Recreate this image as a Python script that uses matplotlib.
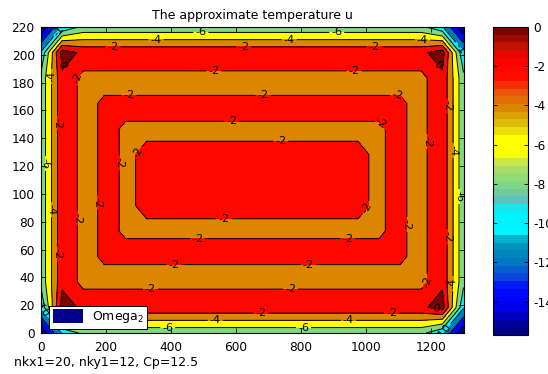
import numpy as np
import matplotlib
matplotlib.use("Agg")
import matplotlib.pyplot as plt
import matplotlib as mpl
from matplotlib.colors import Normalize, LinearSegmentedColormap
from matplotlib.patches import Patch

# ---------------- data (nodal values) ----------------
x_nodes = [0, 65, 130, 195, 260, 325, 390, 455, 520, 585, 650, 715, 780,
           845, 910, 975, 1040, 1105, 1170, 1235, 1300]
y_nodes = [0, 18.333, 36.667, 55, 73.333, 91.667, 110, 128.333, 146.667,
           165, 183.333, 201.667, 220]

u_rows = [
    [-15.7, -9.8, -7.5, -7.5, -7.5, -7.5, -7.5, -7.5, -7.5, -7.5, -7.5, -7.5, -7.5, -7.5, -7.5, -7.5, -7.5, -7.5, -7.5, -9.8, -15.7],
    [-9.8, 1.0, -0.45, -0.45, -0.45, -0.45, -0.45, -0.45, -0.45, -0.45, -0.45, -0.45, -0.45, -0.45, -0.45, -0.45, -0.45, -0.45, -0.45, 1.0, -9.8],
    [-7.5, -0.45, -2.6, -2.6, -2.6, -2.6, -2.6, -2.6, -2.6, -2.6, -2.6, -2.6, -2.6, -2.6, -2.6, -2.6, -2.6, -2.6, -2.6, -0.45, -7.5],
    [-7.5, -0.45, -2.6, -1.72, -1.72, -1.72, -1.72, -1.72, -1.72, -1.72, -1.72, -1.72, -1.72, -1.72, -1.72, -1.72, -1.72, -1.72, -2.6, -0.45, -7.5],
    [-7.5, -0.45, -2.6, -1.72, -2.12, -2.12, -2.12, -2.12, -2.12, -2.12, -2.12, -2.12, -2.12, -2.12, -2.12, -2.12, -2.12, -1.72, -2.6, -0.45, -7.5],
    [-7.5, -0.45, -2.6, -1.72, -2.12, -1.87, -1.87, -1.87, -1.87, -1.87, -1.87, -1.87, -1.87, -1.87, -1.87, -1.87, -2.12, -1.72, -2.6, -0.45, -7.5],
    [-7.5, -0.45, -2.6, -1.72, -2.12, -1.87, -1.87, -1.87, -1.87, -1.87, -1.87, -1.87, -1.87, -1.87, -1.87, -1.87, -2.12, -1.72, -2.6, -0.45, -7.5],
    [-7.5, -0.45, -2.6, -1.72, -2.12, -1.87, -1.87, -1.87, -1.87, -1.87, -1.87, -1.87, -1.87, -1.87, -1.87, -1.87, -2.12, -1.72, -2.6, -0.45, -7.5],
    [-7.5, -0.45, -2.6, -1.72, -2.12, -2.12, -2.12, -2.12, -2.12, -2.12, -2.12, -2.12, -2.12, -2.12, -2.12, -2.12, -2.12, -1.72, -2.6, -0.45, -7.5],
    [-7.5, -0.45, -2.6, -1.72, -1.72, -1.72, -1.72, -1.72, -1.72, -1.72, -1.72, -1.72, -1.72, -1.72, -1.72, -1.72, -1.72, -1.72, -2.6, -0.45, -7.5],
    [-7.5, -0.45, -2.6, -2.6, -2.6, -2.6, -2.6, -2.6, -2.6, -2.6, -2.6, -2.6, -2.6, -2.6, -2.6, -2.6, -2.6, -2.6, -2.6, -0.45, -7.5],
    [-9.8, 1.0, -0.45, -0.45, -0.45, -0.45, -0.45, -0.45, -0.45, -0.45, -0.45, -0.45, -0.45, -0.45, -0.45, -0.45, -0.45, -0.45, -0.45, 1.0, -9.8],
    [-15.7, -9.8, -7.5, -7.5, -7.5, -7.5, -7.5, -7.5, -7.5, -7.5, -7.5, -7.5, -7.5, -7.5, -7.5, -7.5, -7.5, -7.5, -7.5, -9.8, -15.7],
]

fill_levels = [-15.7, -14, -12, -10, -8, -6, -4, -2, 0, 1.1]
line_levels = [-14, -12, -10, -8, -6, -4, -2, 0]
cbar_min, cbar_max = -15.7, 0.0
cbar_ticks = [-14, -12, -10, -8, -6, -4, -2, 0]
x_ticks = [0, 200, 400, 600, 800, 1000, 1200]
y_ticks = [0, 20, 40, 60, 80, 100, 120, 140, 160, 180, 200, 220]
title_text = "The approximate temperature u"
note_text = "nkx1=20, nky1=12, Cp=12.5"
legend_label = "Omega$_2$"

# colormap anchors as seen on the reference colour bar (value, colour)
cmap_values = [-15.7, -15.0, -14.4, -13.4, -12.8, -12.0, -11.0, -10.5, -9.4,
               -8.8, -8.0, -7.0, -6.4, -5.6, -5.0, -4.0, -3.2, -2.5, -1.5,
               -0.7, 0.0]
cmap_colors = [(0.0, 0.0, 0.5), (0.0, 0.0, 0.72), (0.0, 0.0, 0.95),
               (0.0, 0.05, 1.0), (0.05, 0.3, 0.85), (0.0, 0.48, 0.75),
               (0.0, 0.62, 0.75), (0.0, 0.95, 1.0), (0.0, 0.95, 1.0),
               (0.4, 0.75, 0.72), (0.5, 0.85, 0.5), (0.72, 0.87, 0.38),
               (1.0, 1.0, 0.0), (1.0, 1.0, 0.0), (0.87, 0.78, 0.05),
               (0.86, 0.52, 0.0), (0.92, 0.33, 0.05), (1.0, 0.05, 0.0),
               (1.0, 0.0, 0.0), (0.72, 0.07, 0.02), (0.5, 0.0, 0.0)]

# ---------------- figure ----------------
plt.rcParams["font.family"] = ["DejaVu Sans"]
W, H = 548, 374
fig = plt.figure(figsize=(W / 100, H / 100), dpi=100)
ax = fig.add_axes([41 / W, (H - 333) / H, 422.5 / W, 306 / H])

X, Y = np.meshgrid(np.array(x_nodes), np.array(y_nodes))
U = np.array(u_rows)

norm = Normalize(cbar_min, cbar_max)
anchors = [((v - cbar_min) / (cbar_max - cbar_min), c)
           for v, c in zip(cmap_values, cmap_colors)]
cmap_smooth = LinearSegmentedColormap.from_list("refjet", anchors)
cmap = cmap_smooth.resampled(40)
band_colors = [cmap_smooth(norm(max(lv, cbar_min))) for lv in fill_levels[:-1]]

ax.contourf(X, Y, U, levels=fill_levels, colors=band_colors)
ax.set_xlim(0, 1300)
ax.set_ylim(0, 220)
cs = ax.contour(X, Y, U, levels=line_levels, colors="k", linewidths=0.7,
                linestyles="solid")

ax.set_xticks(x_ticks)
ax.set_yticks(y_ticks)
ax.tick_params(direction="in", top=True, right=True, length=3.5, width=0.6,
               labelsize=8.7, pad=4.5)
ax.tick_params(axis="x", pad=5.5)
for sp in ax.spines.values():
    sp.set_linewidth(0.8)

leg = ax.legend(handles=[Patch(facecolor=(0, 0, 0.55), edgecolor="none",
                               label=legend_label)],
                loc="lower left", bbox_to_anchor=(0.019, 0.013),
                borderaxespad=0, fancybox=False, framealpha=1,
                edgecolor="k", fontsize=9, handlelength=2.4,
                handleheight=1.3, borderpad=0.3, handletextpad=0.7)
leg.get_frame().set_linewidth(0.7)
leg.set_zorder(5)

fig.canvas.draw()
leg_box = leg.get_window_extent().expanded(1.1, 1.4)

# label positions spread along each contour piece
positions = []
placed_px = []
spacing_px = 130.0
for li, path in enumerate(cs.get_paths()):
    phase = (0.3 + 0.37 * li) % 1.0
    for poly in path.to_polygons(closed_only=False):
        if len(poly) < 2:
            continue
        disp = ax.transData.transform(poly)
        seg = np.hypot(*np.diff(disp, axis=0).T)
        s = np.concatenate([[0.0], np.cumsum(seg)])
        total = s[-1]
        if total < 25:
            continue
        n = max(1, int(total // spacing_px))
        for k in range(n):
            t = ((k + phase) % n) * total / n
            idx = min(max(np.searchsorted(s, t), 1), len(s) - 1)
            f = (t - s[idx - 1]) / max(seg[idx - 1], 1e-9)
            p = poly[idx - 1] + f * (poly[idx] - poly[idx - 1])
            pd = ax.transData.transform(p)
            if leg_box.contains(pd[0], pd[1]):
                continue
            if any(np.hypot(pd[0] - q[0], pd[1] - q[1]) < 13 for q in placed_px):
                continue
            placed_px.append(pd)
            positions.append((p[0], p[1]))

ax.clabel(cs, manual=positions, inline=True, inline_spacing=2,
          fontsize=8, fmt="%g", colors="k")

fig.text(252 / W, (H - 15.7) / H, title_text, ha="center", va="center",
         fontsize=9)
fig.text(14 / W, (H - 362.5) / H, note_text, ha="left", va="center",
         fontsize=9)

# colorbar
cax = fig.add_axes([492.5 / W, (H - 335) / H, 35 / W, 308 / H])
cb = mpl.colorbar.ColorbarBase(cax, cmap=cmap, norm=norm,
                               orientation="vertical")
cb.set_ticks(cbar_ticks)
cb.set_ticklabels([f"{t:g}" for t in cbar_ticks])
cax.tick_params(direction="in", left=True, right=True, length=3, width=0.6,
                labelsize=8.7, pad=4)
cb.outline.set_linewidth(0.8)

fig.savefig("out.png", dpi=100)
